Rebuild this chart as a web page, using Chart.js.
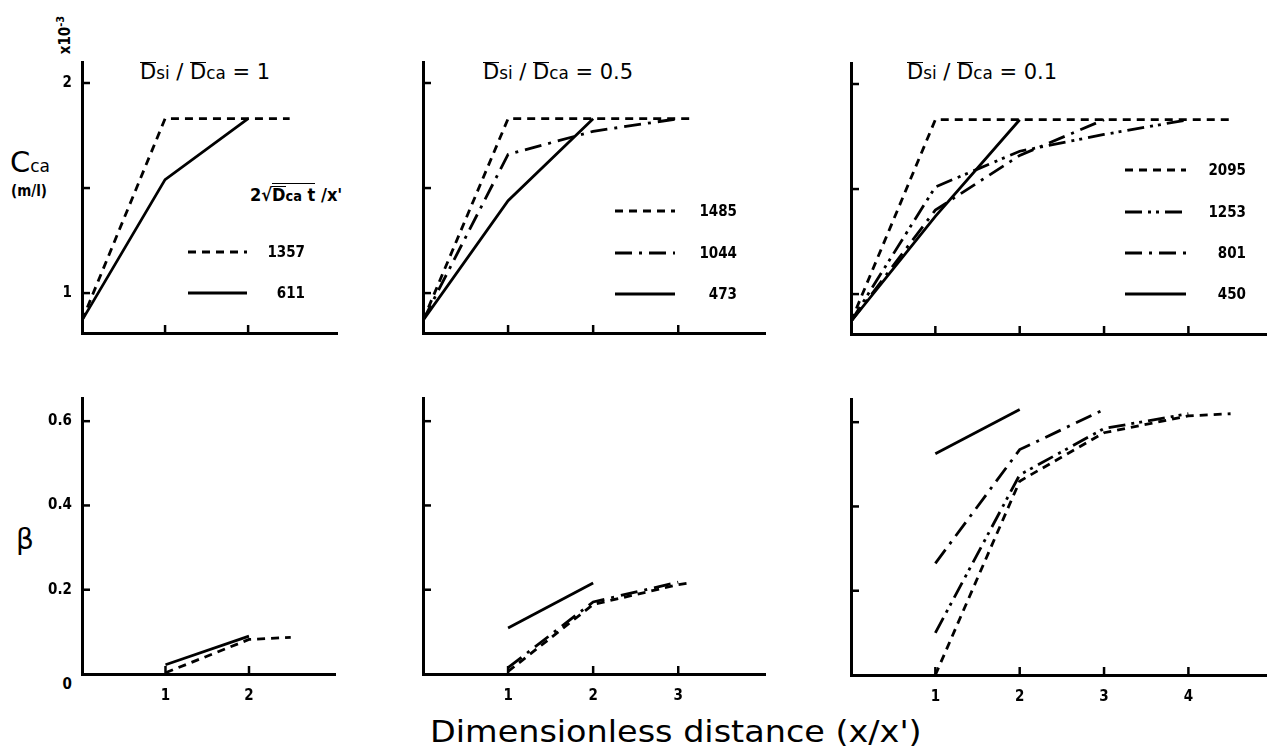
<!DOCTYPE html>
<html>
<head>
<meta charset="utf-8">
<script src="https://cdn.jsdelivr.net/npm/chart.js@4.4.0/dist/chart.umd.min.js"></script>
<style>
  body { margin: 0; background: #fff; width: 1267px; height: 752px; position: relative; overflow: hidden;
         font-family: "DejaVu Sans", sans-serif; color: #000; }
  canvas { position: absolute; }
  .txt { position: absolute; white-space: nowrap; line-height: 1; }
  .ttl { font-size: 21px; }
  .ov { display: inline-block; border-top: 1.6px solid #000; line-height: 0.86; }
  .sm { font-size: 0.8em; }
  .num { font-family: "DejaVu Sans Condensed", "DejaVu Sans", sans-serif; font-weight: bold; font-size: 15px;
         width: 60px; text-align: right; }
</style>
</head>
<body>

<div class="txt ttl" style="left:140px; top:62px;"><span class="ov">D</span><span class="sm">si</span> / <span class="ov">D</span><span class="sm">ca</span> = 1</div>
<div class="txt ttl" style="left:483px; top:62px;"><span class="ov">D</span><span class="sm">si</span> / <span class="ov">D</span><span class="sm">ca</span> = 0.5</div>
<div class="txt ttl" style="left:907px; top:62px;"><span class="ov">D</span><span class="sm">si</span> / <span class="ov">D</span><span class="sm">ca</span> = 0.1</div>

<div class="txt" style="left:250px; top:186px; font-family:'DejaVu Sans Condensed'; font-weight:bold; font-size:18px;">2√<span style="border-top:1.5px solid #000;"><span class="ov" style="border-top-width:1.3px;">D</span><span class="sm">ca</span> t</span> /x'</div>

<div class="txt" style="left:10px; top:148px; font-size:29px;">C<span style="font-size:17px;">ca</span></div>
<div class="txt" style="left:11px; top:184px; font-family:'DejaVu Sans Condensed'; font-weight:bold; font-size:15px;">(m/l)</div>
<div class="txt" style="left:34px; top:26px; width:60px; text-align:center; transform:rotate(-90deg); font-family:'DejaVu Sans Condensed'; font-weight:bold; font-size:15px;">x10<sup style="font-size:11px;">-3</sup></div>
<div class="txt" style="left:16px; top:526px; font-size:28px;">β</div>
<div class="txt num" style="left:12px; top:677px;">0</div>

<div id="xlab" class="txt" style="left:430px; top:716px; font-size:31px; transform-origin:left top;">Dimensionless distance (x/x')</div>

<script>
// ---- data ----
// top row: C_Ca (x10^-3 m/l) against x/x', one curve per 2*sqrt(Dca t)/x'
// Dsi/Dca = 1
const ca1_1357_x = [0, 1, 2.5];
const ca1_1357_y = [0.87, 1.83, 1.83];
const ca1_611_x = [0, 1, 2];
const ca1_611_y = [0.87, 1.54, 1.83];
// Dsi/Dca = 0.5
const ca2_1485_x = [0, 1, 3.15];
const ca2_1485_y = [0.87, 1.83, 1.83];
const ca2_1044_x = [0, 1, 2, 3];
const ca2_1044_y = [0.87, 1.66, 1.77, 1.83];
const ca2_473_x = [0, 1, 2];
const ca2_473_y = [0.87, 1.44, 1.83];
// Dsi/Dca = 0.1
const ca3_2095_x = [0, 1, 4.5];
const ca3_2095_y = [0.87, 1.83, 1.83];
const ca3_1253_x = [0, 1, 2, 3, 4];
const ca3_1253_y = [0.87, 1.51, 1.68, 1.76, 1.83];
const ca3_801_x = [0, 1, 2, 3];
const ca3_801_y = [0.87, 1.40, 1.66, 1.83];
const ca3_450_x = [0, 1, 2];
const ca3_450_y = [0.87, 1.37, 1.83];

// bottom row: beta against x/x'
const b1_1357_x = [1, 2, 2.5];
const b1_1357_y = [0.003, 0.082, 0.087];
const b1_611_x = [1, 2];
const b1_611_y = [0.022, 0.09];
const b2_1485_x = [1, 2, 3, 3.1];
const b2_1485_y = [0.006, 0.165, 0.212, 0.215];
const b2_1044_x = [1, 2, 3];
const b2_1044_y = [0.015, 0.171, 0.218];
const b2_473_x = [1, 2];
const b2_473_y = [0.109, 0.216];
const b3_2095_x = [1, 2, 3, 4, 4.5];
const b3_2095_y = [0.0, 0.46, 0.575, 0.615, 0.62];
const b3_1253_x = [1, 2, 3, 4];
const b3_1253_y = [0.1, 0.475, 0.585, 0.62];
const b3_801_x = [1, 2, 3];
const b3_801_y = [0.265, 0.535, 0.63];
const b3_450_x = [1, 2];
const b3_450_y = [0.525, 0.63];

// legend numbers (2*sqrt(Dca t)/x')
const legend1 = ['1357', '611'];
const legend2 = ['1485', '1044', '473'];
const legend3 = ['2095', '1253', '801', '450'];

// tick values / labels
const caTicks = [1, 1.5, 2];
const caLabels = ['1', '', '2'];
const betaTicks = [0.2, 0.4, 0.6];
const betaLabels = ['0.2', '0.4', '0.6'];
const xTicks1 = [1, 2];
const xTicks2 = [1, 2, 3];
const xTicks3 = [1, 2, 3, 4];
const xLabels1 = ['1', '2'];
const xLabels2 = ['1', '2', '3'];
const xLabels3 = ['1', '2', '3', '4'];
const none = [];

// ---- drawing ----
const DASH = { dash: [8, 6], dashdot: [17, 7, 3, 7], dashdot2: [17, 6, 3, 5, 3, 6], solid: [] };
const tickFont = { family: "'DejaVu Sans Condensed', 'DejaVu Sans'", weight: 'bold', size: 15 };

function pts(xs, ys) {
  return xs.map((x, i) => ({ x: x, y: ys[i] }));
}

// inward tick marks + legend sample lines
const inTicks = {
  id: 'inTicks',
  afterDraw(chart, args, opts) {
    const ctx = chart.ctx, a = chart.chartArea;
    const ox = chart.canvas.offsetLeft, oy = chart.canvas.offsetTop;
    ctx.save();
    ctx.strokeStyle = '#000';
    ctx.lineWidth = 2.5;
    chart.scales.x.ticks.forEach(t => {
      const p = chart.scales.x.getPixelForValue(t.value);
      ctx.beginPath(); ctx.moveTo(p, a.bottom); ctx.lineTo(p, a.bottom - 8); ctx.stroke();
    });
    chart.scales.y.ticks.forEach(t => {
      const p = chart.scales.y.getPixelForValue(t.value);
      ctx.beginPath(); ctx.moveTo(a.left, p); ctx.lineTo(a.left + 8, p); ctx.stroke();
    });
    (opts.rows || []).forEach(r => {
      const ds = chart.data.datasets[r.ds];
      ctx.setLineDash(ds.borderDash);
      ctx.lineWidth = ds.borderWidth;
      ctx.beginPath(); ctx.moveTo(r.x1 - ox, r.y - oy); ctx.lineTo(r.x2 - ox, r.y - oy); ctx.stroke();
    });
    ctx.restore();
  }
};

function makePanel(cfg) {
  const W = 70, T = 30, R = 24, H = 40;
  const aw = cfg.area[2] - cfg.area[0], ah = cfg.area[3] - cfg.area[1];
  const cv = document.createElement('canvas');
  cv.width = aw + W + R;
  cv.height = ah + T + H;
  cv.style.left = (cfg.area[0] - W) + 'px';
  cv.style.top = (cfg.area[1] - T) + 'px';
  document.body.appendChild(cv);

  new Chart(cv, {
    type: 'line',
    data: {
      datasets: cfg.series.map(s => ({
        data: pts(s[0], s[1]),
        borderColor: '#000',
        borderWidth: 2.8,
        borderDash: DASH[s[2]],
        borderCapStyle: 'butt',
        pointRadius: 0,
        tension: 0,
        fill: false
      }))
    },
    options: {
      responsive: false,
      animation: false,
      devicePixelRatio: 1,
      layout: { padding: { left: 0, top: T, right: R, bottom: 0 } },
      plugins: { legend: { display: false }, tooltip: { enabled: false }, inTicks: { rows: cfg.rows } },
      scales: {
        x: {
          type: 'linear', min: 0, max: cfg.xMax,
          grid: { display: false, drawTicks: false },
          border: { display: true, color: '#000', width: 3 },
          afterBuildTicks: s => { s.ticks = cfg.xTicks.map(v => ({ value: v })); },
          afterFit: s => { s.height = H; },
          ticks: { autoSkip: false, maxRotation: 0, padding: 13, color: '#000', font: tickFont,
                   callback: (v, i) => cfg.xLabels[i] || '' }
        },
        y: {
          type: 'linear', min: cfg.yMin, max: cfg.yMax,
          grid: { display: false, drawTicks: false },
          border: { display: true, color: '#000', width: 3 },
          afterBuildTicks: s => { s.ticks = cfg.yTicks.map(v => ({ value: v })); },
          afterFit: s => { s.width = W; },
          ticks: { autoSkip: false, padding: 10, color: '#000', font: tickFont,
                   callback: (v, i) => cfg.yLabels[i] || '' }
        }
      }
    },
    plugins: [inTicks]
  });
}

function legendText(names, right, ys) {
  names.forEach((n, i) => {
    const d = document.createElement('div');
    d.className = 'txt num';
    d.style.left = (right - 60) + 'px';
    d.style.top = (ys[i] - 7) + 'px';
    d.textContent = n;
    document.body.appendChild(d);
  });
}

// top row
makePanel({
  area: [82, 62, 337, 333], xMax: 3.07, yMin: 0.81, yMax: 2.1,
  xTicks: xTicks1, xLabels: none, yTicks: caTicks, yLabels: caLabels,
  series: [[ca1_1357_x, ca1_1357_y, 'dash'], [ca1_611_x, ca1_611_y, 'solid']],
  rows: [{ ds: 0, y: 252, x1: 188, x2: 247 }, { ds: 1, y: 293, x1: 188, x2: 247 }]
});
makePanel({
  area: [423, 62, 765, 333], xMax: 4.02, yMin: 0.81, yMax: 2.1,
  xTicks: xTicks2, xLabels: none, yTicks: caTicks, yLabels: none,
  series: [[ca2_1485_x, ca2_1485_y, 'dash'], [ca2_1044_x, ca2_1044_y, 'dashdot'], [ca2_473_x, ca2_473_y, 'solid']],
  rows: [{ ds: 0, y: 211, x1: 615, x2: 675 }, { ds: 1, y: 253, x1: 615, x2: 675 }, { ds: 2, y: 294, x1: 615, x2: 675 }]
});
makePanel({
  area: [851, 63, 1266, 334], xMax: 4.92, yMin: 0.81, yMax: 2.1,
  xTicks: xTicks3, xLabels: none, yTicks: caTicks, yLabels: none,
  series: [[ca3_2095_x, ca3_2095_y, 'dash'], [ca3_1253_x, ca3_1253_y, 'dashdot2'],
           [ca3_801_x, ca3_801_y, 'dashdot'], [ca3_450_x, ca3_450_y, 'solid']],
  rows: [{ ds: 0, y: 170, x1: 1125, x2: 1186 }, { ds: 1, y: 212, x1: 1125, x2: 1186 },
         { ds: 2, y: 253, x1: 1125, x2: 1186 }, { ds: 3, y: 294, x1: 1125, x2: 1186 }]
});

// bottom row
makePanel({
  area: [82, 398, 335, 674], xMax: 3.03, yMin: 0, yMax: 0.655,
  xTicks: xTicks1, xLabels: xLabels1, yTicks: betaTicks, yLabels: betaLabels,
  series: [[b1_1357_x, b1_1357_y, 'dash'], [b1_611_x, b1_611_y, 'solid']], rows: []
});
makePanel({
  area: [423, 398, 765, 674], xMax: 4.02, yMin: 0, yMax: 0.655,
  xTicks: xTicks2, xLabels: xLabels2, yTicks: betaTicks, yLabels: none,
  series: [[b2_1485_x, b2_1485_y, 'dash'], [b2_1044_x, b2_1044_y, 'dashdot'], [b2_473_x, b2_473_y, 'solid']], rows: []
});
makePanel({
  area: [851, 399, 1266, 675], xMax: 4.92, yMin: 0, yMax: 0.655,
  xTicks: xTicks3, xLabels: xLabels3, yTicks: betaTicks, yLabels: none,
  series: [[b3_2095_x, b3_2095_y, 'dash'], [b3_1253_x, b3_1253_y, 'dashdot2'],
           [b3_801_x, b3_801_y, 'dashdot'], [b3_450_x, b3_450_y, 'solid']], rows: []
});

legendText(legend1, 305, [252, 293]);
legendText(legend2, 737, [211, 253, 294]);
legendText(legend3, 1246, [170, 212, 253, 294]);

// stretch the axis caption to the width it has in the figure
const xl = document.getElementById('xlab');
xl.style.transform = 'scaleX(' + (492 / xl.offsetWidth) + ')';
</script>
</body>
</html>
